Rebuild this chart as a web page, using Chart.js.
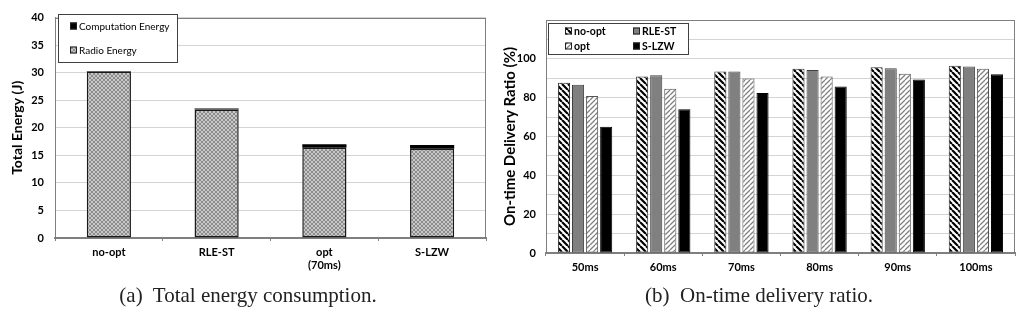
<!DOCTYPE html>
<html>
<head>
<meta charset="utf-8">
<script src="https://cdn.jsdelivr.net/npm/chart.js@4"></script>
<style>
  body { margin: 0; background: #fff; width: 1024px; height: 322px; position: relative; overflow: hidden; }
  #energyChart { position: absolute; left: 0; top: 0; }
  #ratioChart { position: absolute; left: 490px; top: 0; }
  .caption { position: absolute; top: 283px; width: 400px; text-align: center;
    font-family: "Liberation Serif", serif; font-size: 21px; color: #222; white-space: pre; }
</style>
</head>
<body>
<canvas id="energyChart" width="490" height="285"></canvas>
<canvas id="ratioChart" width="534" height="285"></canvas>
<div class="caption" style="left:48px">(a)  Total energy consumption.</div>
<div class="caption" style="left:559px">(b)  On-time delivery ratio.</div>
<script>
// ===== DATA =====
const energyCategories = ['no-opt', 'RLE-ST', ['opt', '(70ms)'], 'S-LZW'];
const radioEnergy = [30.2, 23.3, 16.4, 16.2];
const computationEnergy = [0.1, 0.2, 0.6, 0.7];
const energyMax = 40, energyStep = 5;

const periods = ['50ms', '60ms', '70ms', '80ms', '90ms', '100ms'];
const noOpt   = [87.7, 90.9, 93.5, 94.9, 95.7, 96.4];
const rleSt   = [86.7, 91.5, 93.5, 94.2, 95.2, 96.1];
const optR    = [80.9, 84.6, 89.9, 90.9, 92.3, 94.9];
const sLzw    = [65.0, 74.0, 82.4, 85.8, 89.4, 92.1];
const ratioMax = 120, ratioGridStep = 10, ratioLabelStep = 20, ratioLabelMax = 100;

// ===== PATTERNS =====
function stripes(bg, fg, lw, size, dirs) {
  const c = document.createElement('canvas');
  c.width = c.height = size;
  const g = c.getContext('2d');
  g.fillStyle = bg; g.fillRect(0, 0, size, size);
  g.strokeStyle = fg; g.lineWidth = lw;
  g.beginPath();
  for (let k = -1; k <= 1; k++) {
    if (dirs.includes('\\')) { g.moveTo(k * size, 0); g.lineTo(k * size + size, size); }
    if (dirs.includes('/')) { g.moveTo(k * size, size); g.lineTo(k * size + size, 0); }
  }
  g.stroke();
  return g.createPattern(c, 'repeat');
}
const radioFill = stripes('#c8c8c8', '#858585', 0.9, 4, '/\\');
const noOptFill = stripes('#ffffff', '#000000', 2.2, 6, '\\');
const optFill = stripes('#ffffff', '#808080', 1.3, 5, '/');

const boldFont = { family: 'Lato', weight: 'bold', size: 11 };
const axisColor = '#7f7f7f';

// frame around plot area
const framePlugin = {
  id: 'frame',
  beforeDatasetsDraw(chart) {
    const { ctx, chartArea: a } = chart;
    ctx.save();
    ctx.strokeStyle = axisColor; ctx.lineWidth = 1;
    ctx.strokeRect(Math.round(a.left) + 0.5, Math.round(a.top) + 0.5, Math.round(a.right - a.left) - 1, Math.round(a.bottom - a.top));
    ctx.restore();
  }
};

// boxed legend drawn from the datasets
function boxLegend(box, items, spots, font) {
  return {
    id: 'boxLegend',
    afterDraw(chart) {
      const { ctx } = chart;
      ctx.save();
      ctx.fillStyle = '#fff';
      ctx.fillRect(box.x, box.y, box.w, box.h);
      ctx.strokeStyle = '#404040'; ctx.lineWidth = 1;
      ctx.strokeRect(box.x + 0.5, box.y + 0.5, box.w, box.h);
      ctx.font = font;
      ctx.textBaseline = 'middle';
      items.forEach((it, i) => {
        const ds = chart.data.datasets[it.ds];
        const x = spots[i].x, y = spots[i].y;
        ctx.fillStyle = ds.backgroundColor;
        ctx.fillRect(x, y - 3.5, 7, 7);
        ctx.strokeStyle = '#222';
        ctx.strokeRect(x + 0.5, y - 3, 6, 6);
        ctx.fillStyle = '#000';
        ctx.fillText(ds.label, x + 9, y + 0.5);
      });
      ctx.restore();
    }
  };
}

// ===== CHART A: total energy =====
new Chart(document.getElementById('energyChart'), {
  type: 'bar',
  data: {
    labels: energyCategories,
    datasets: [
      { label: 'Radio Energy', data: radioEnergy, backgroundColor: radioFill,
        borderColor: '#1a1a1a', borderWidth: 1.5, borderSkipped: false,
        barPercentage: 0.41, categoryPercentage: 1 },
      { label: 'Computation Energy', data: computationEnergy, backgroundColor: '#000',
        borderColor: '#000', borderWidth: 0, borderSkipped: false,
        barPercentage: 0.41, categoryPercentage: 1 }
    ]
  },
  options: {
    responsive: false,
    animation: false,
    devicePixelRatio: 1,
    layout: { padding: { top: 12, right: 4, left: 0, bottom: 0 } },
    plugins: { legend: { display: false }, tooltip: { enabled: false } },
    scales: {
      x: {
        stacked: true,
        grid: { drawOnChartArea: false, tickLength: 3, color: axisColor, offset: true },
        border: { color: axisColor, width: 2 },
        ticks: { color: '#000', font: boldFont, padding: 5, maxRotation: 0 },
        afterFit: s => { s.height = 285 - 238; }
      },
      y: {
        stacked: true, min: 0, max: energyMax,
        ticks: { stepSize: energyStep, color: '#000', font: boldFont, padding: 11 },
        grid: { color: '#d4d4d4', drawTicks: false },
        border: { color: axisColor, width: 1 },
        title: { display: true, text: 'Total Energy (J)', color: '#000',
          font: { family: 'Lato', weight: 'bold', size: 14 }, padding: { top: 9, bottom: 0 } },
        afterFit: s => { s.width = 55; }
      }
    }
  },
  plugins: [framePlugin, boxLegend({ x: 58, y: 14, w: 119, h: 48 },
    [{ ds: 1 }, { ds: 0 }], [{ x: 70, y: 26 }, { x: 70, y: 50 }], '10px Lato')]
});

// ===== CHART B: on-time delivery ratio =====
const barOpts = { borderWidth: 1, borderSkipped: false, barPercentage: 0.86, categoryPercentage: 0.72 };
new Chart(document.getElementById('ratioChart'), {
  type: 'bar',
  data: {
    labels: periods,
    datasets: [
      { label: 'no-opt', data: noOpt, backgroundColor: noOptFill, borderColor: '#333', ...barOpts },
      { label: 'RLE-ST', data: rleSt, backgroundColor: '#808080', borderColor: '#404040', ...barOpts },
      { label: 'opt', data: optR, backgroundColor: optFill, borderColor: '#555', ...barOpts },
      { label: 'S-LZW', data: sLzw, backgroundColor: '#000', borderColor: '#000', ...barOpts }
    ]
  },
  options: {
    responsive: false,
    animation: false,
    devicePixelRatio: 1,
    layout: { padding: { top: 20, right: 9, left: 0, bottom: 0 } },
    plugins: { legend: { display: false }, tooltip: { enabled: false } },
    scales: {
      x: {
        grid: { drawOnChartArea: false, tickLength: 3, color: axisColor, offset: true },
        border: { color: axisColor, width: 2 },
        ticks: { color: '#000', font: boldFont, padding: 5, maxRotation: 0 },
        afterFit: s => { s.height = 285 - 253; }
      },
      y: {
        min: 0, max: ratioMax,
        ticks: { stepSize: ratioGridStep, color: '#000', font: boldFont, padding: 10,
          callback: v => (v % ratioLabelStep === 0 && v <= ratioLabelMax) ? v : '' },
        grid: { color: '#d4d4d4', drawTicks: false },
        border: { color: axisColor, width: 1 },
        title: { display: true, text: 'On-time Delivery Ratio (%)', color: '#000',
          font: { family: 'Lato', weight: 'bold', size: 15 }, padding: { top: 11, bottom: 0 } },
        afterFit: s => { s.width = 56; }
      }
    }
  },
  plugins: [framePlugin, boxLegend({ x: 58, y: 23, w: 140, h: 31 },
    [{ ds: 0 }, { ds: 1 }, { ds: 2 }, { ds: 3 }],
    [{ x: 75, y: 31 }, { x: 143, y: 31 }, { x: 75, y: 46 }, { x: 143, y: 46 }], 'bold 10.5px Lato')]
});
</script>
</body>
</html>
